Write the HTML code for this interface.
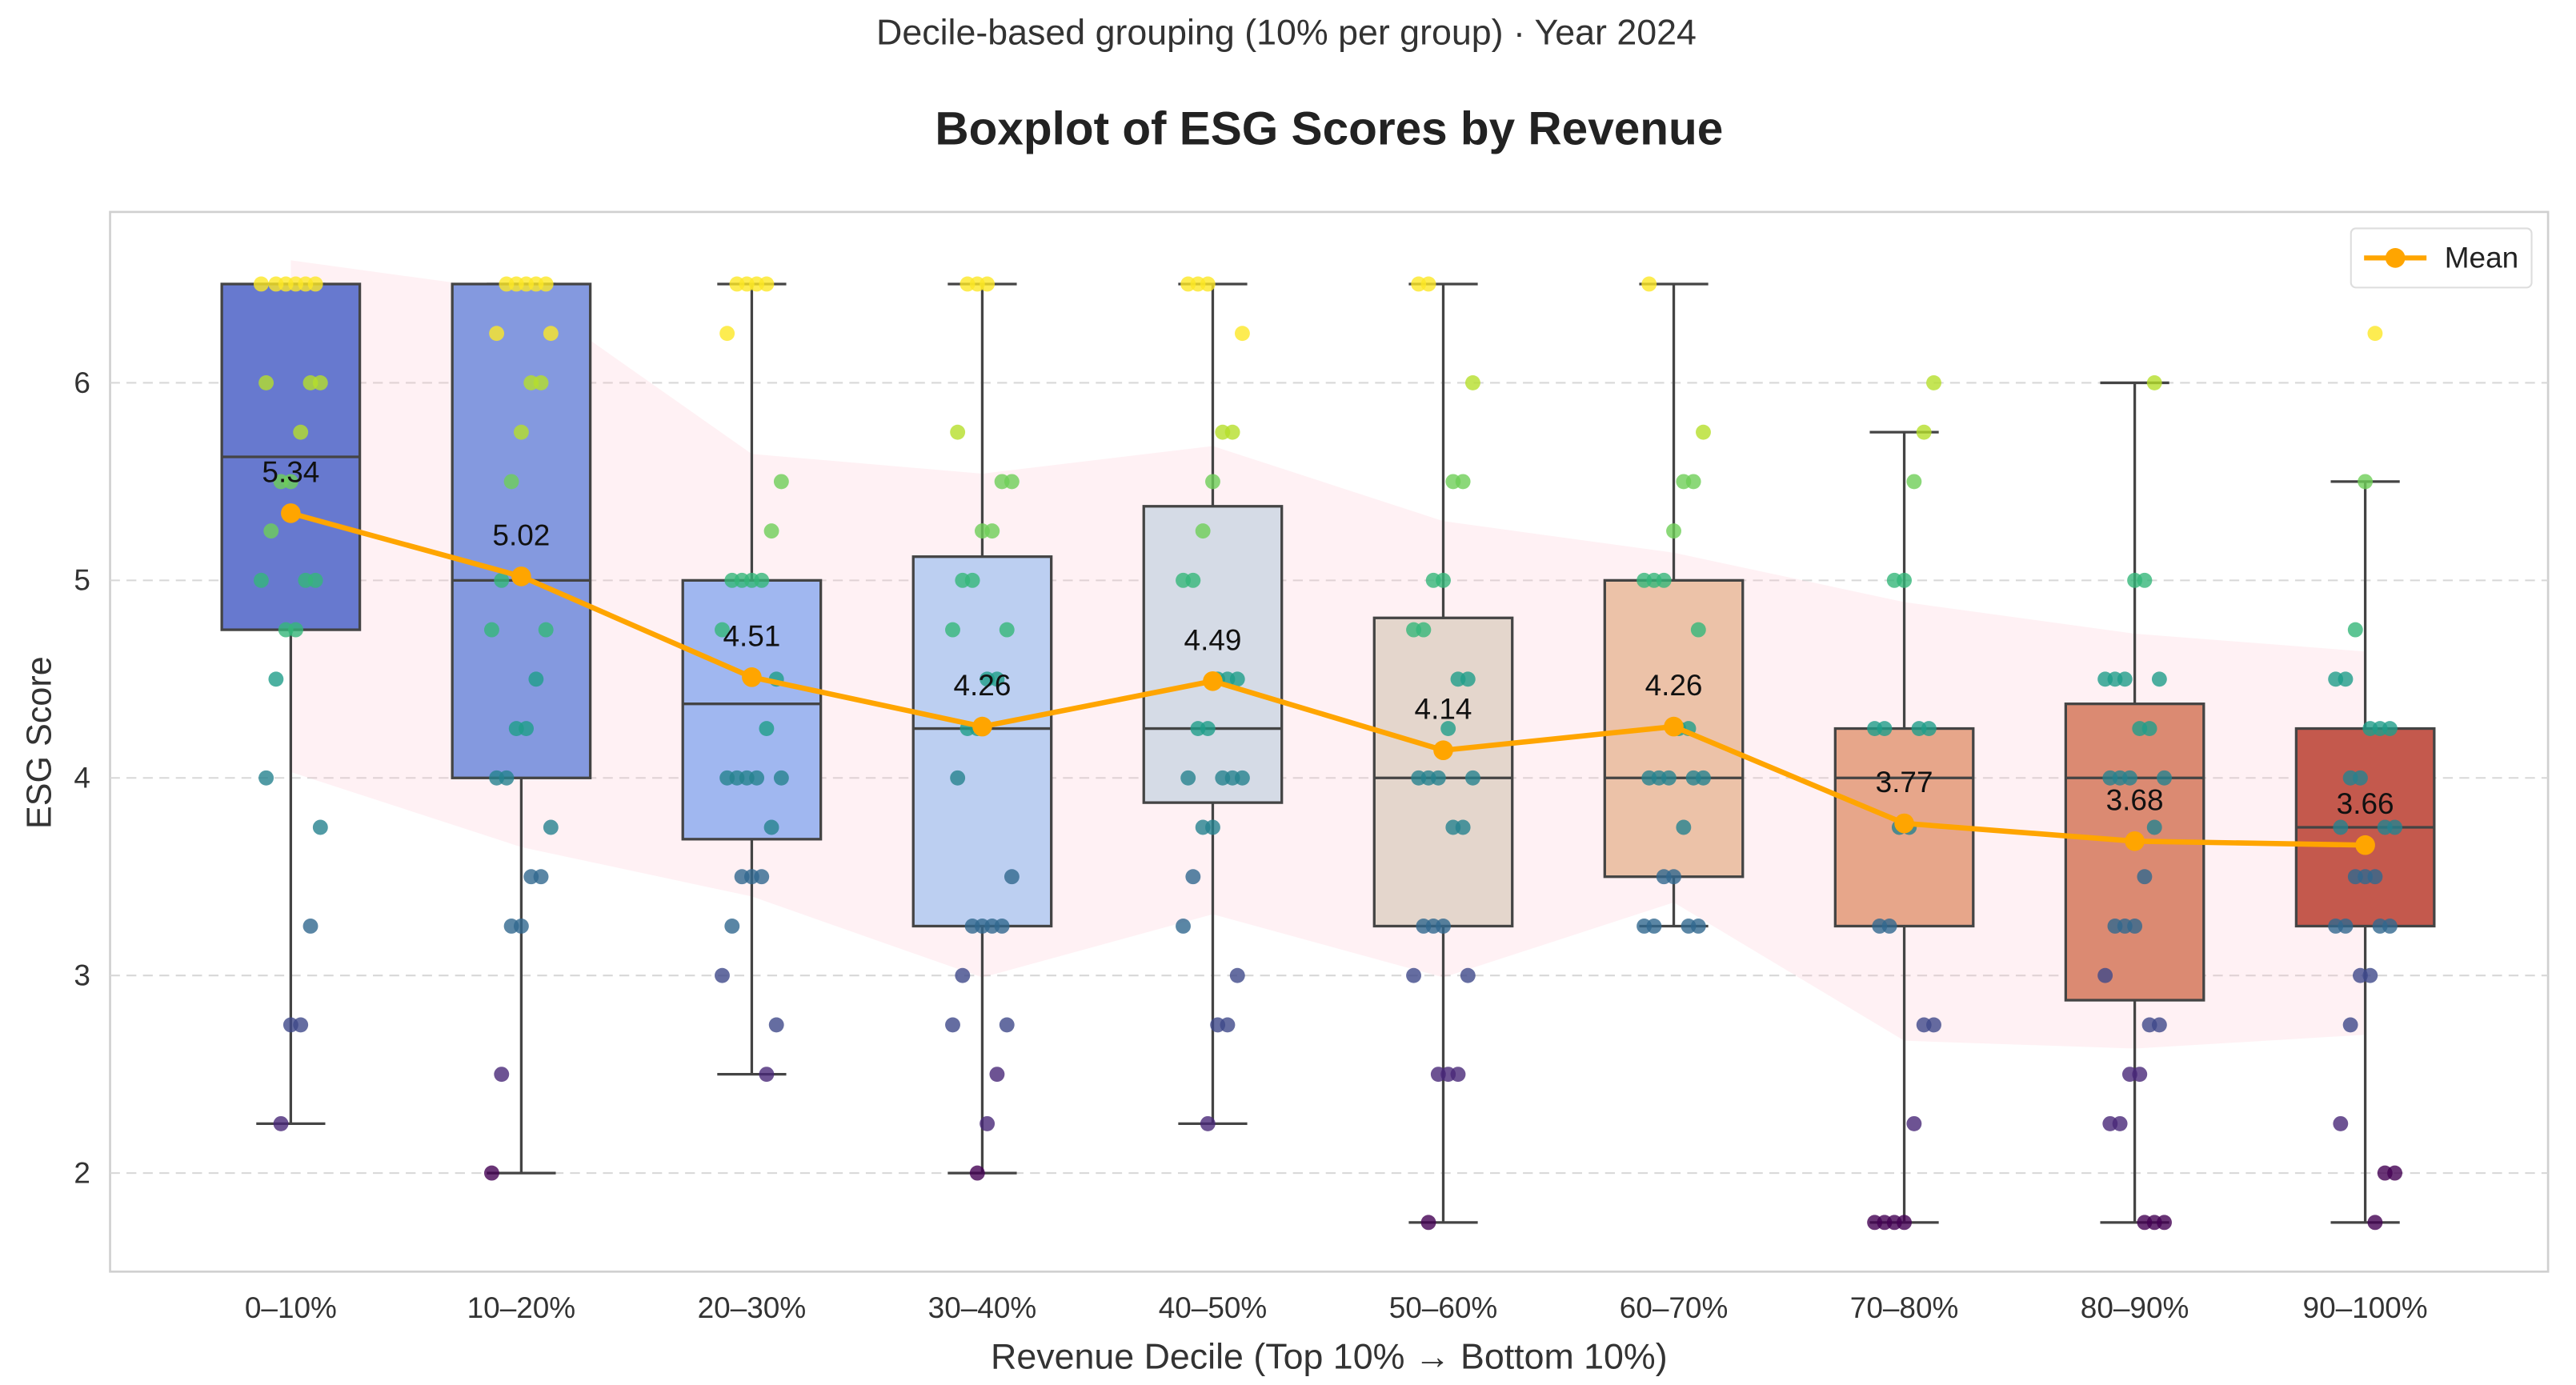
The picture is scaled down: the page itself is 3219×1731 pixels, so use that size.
<!DOCTYPE html>
<html><head><meta charset="utf-8"><style>
html,body{margin:0;padding:0;background:#fff;}
svg{display:block;font-family:"Liberation Sans",Arial,sans-serif;}
</style></head><body>
<svg id="chart" width="3219" height="1731" viewBox="0 0 1568 843" preserveAspectRatio="none" xmlns="http://www.w3.org/2000/svg">
<text x="783" y="27" text-anchor="middle" font-size="21.8" fill="#333">Decile-based grouping (10% per group) · Year 2024</text>
<text x="809" y="88" text-anchor="middle" font-size="28.5" font-weight="bold" fill="#222">Boxplot of ESG Scores by Revenue</text>
<rect x="67" y="129" width="1484" height="645" fill="#fff" stroke="#d0d0d0" stroke-width="1.3"/>
<g id="grid"></g><g id="band"></g><g id="boxes"></g><g id="points"></g><g id="meanline"></g><g id="axes"></g>
<text transform="translate(31,452) rotate(-90)" text-anchor="middle" font-size="21" fill="#333">ESG Score</text>
<text x="809" y="833" text-anchor="middle" font-size="21.8" fill="#333">Revenue Decile (Top 10% → Bottom 10%)</text>
<g>
<rect x="1431" y="139" width="110" height="36" rx="3" fill="#fff" stroke="#ddd"/>
<line x1="1439" y1="157" x2="1477" y2="157" stroke="#ffa500" stroke-width="3"/>
<circle cx="1458" cy="157" r="6" fill="#ffa500"/>
<text x="1488" y="163" font-size="18" fill="#222">Mean</text>
</g>
</svg>
<script>
const categories=["0–10%","10–20%","20–30%","30–40%","40–50%","50–60%","60–70%","70–80%","80–90%","90–100%"];
const q1=[4.75,4.0,3.69,3.25,3.875,3.25,3.5,3.25,2.875,3.25];
const medians=[5.625,5.0,4.375,4.25,4.25,4.0,4.0,4.0,4.0,3.75];
const q3=[6.5,6.5,5.0,5.12,5.375,4.81,5.0,4.25,4.375,4.25];
const whiskerLow=[2.25,2.0,2.5,2.0,2.25,1.75,3.25,1.75,1.75,1.75];
const whiskerHigh=[6.5,6.5,6.5,6.5,6.5,6.5,6.5,5.75,6.0,5.5];
const means=[5.34,5.02,4.51,4.26,4.49,4.14,4.26,3.77,3.68,3.66];
const bandUpper=[6.62,6.46,5.64,5.54,5.68,5.3,5.14,4.89,4.73,4.64];
const bandLower=[4.03,3.65,3.4,2.99,3.31,2.99,3.37,2.67,2.63,2.7];
const boxColors=["#6779cf","#8499df","#a0b7f0","#bccff1","#d5dbe6","#e4d6cc","#ecc2a8","#e7a68a","#db8a72","#c4594d"];
const yTicks=[2,3,4,5,6];
const points=[
[6.5,6.5,6.5,6.5,6.5,6.5,6,6,6,5.75,5.5,5.5,5.25,5,5,5,4.75,4.75,4.5,4,3.75,3.25,2.75,2.75,2.25],
[6.5,6.5,6.5,6.5,6.5,6.25,6.25,6,6,5.75,5.5,5,4.75,4.75,4.5,4.25,4.25,4,4,3.75,3.5,3.5,3.25,3.25,2.5,2],
[6.5,6.5,6.5,6.5,6.25,5.5,5.25,5,5,5,5,4.75,4.5,4.25,4,4,4,4,4,3.75,3.5,3.5,3.5,3.25,3,2.75,2.5],
[6.5,6.5,6.5,5.75,5.5,5.5,5.25,5.25,5,5,4.75,4.75,4.5,4.5,4.25,4.25,4,3.5,3.25,3.25,3.25,3.25,3,2.75,2.75,2.5,2.25,2],
[6.5,6.5,6.5,6.25,5.75,5.75,5.5,5.25,5,5,4.5,4.5,4.5,4.25,4.25,4,4,4,4,3.75,3.75,3.5,3.25,3,2.75,2.75,2.25],
[6.5,6.5,6,5.5,5.5,5,5,4.75,4.75,4.5,4.5,4.25,4,4,4,4,3.75,3.75,3.25,3.25,3.25,3,3,2.5,2.5,2.5,1.75],
[6.5,5.75,5.5,5.5,5.25,5,5,5,4.75,4.25,4.25,4,4,4,4,4,3.75,3.5,3.5,3.25,3.25,3.25,3.25],
[6,5.75,5.5,5,5,4.25,4.25,4.25,4.25,3.75,3.75,3.25,3.25,2.75,2.75,2.25,1.75,1.75,1.75,1.75],
[6,5,5,4.5,4.5,4.5,4.5,4.25,4.25,4,4,4,4,3.75,3.5,3.25,3.25,3.25,3,2.75,2.75,2.5,2.5,2.25,2.25,1.75,1.75,1.75],
[6.25,5.5,4.75,4.5,4.5,4.25,4.25,4.25,4,4,3.75,3.75,3.75,3.5,3.5,3.5,3.25,3.25,3.25,3.25,3,3,2.75,2.25,2,2,1.75]
];
const NS="http://www.w3.org/2000/svg";
const xPos=i=>177+i*140.3;
const yPos=v=>233+(6-v)*120.25;
const BW=84;
function mk(tag,attrs,parent){const e=document.createElementNS(NS,tag);for(const k in attrs)e.setAttribute(k,attrs[k]);parent.appendChild(e);return e;}
const viridis=["#440154","#482878","#3e4989","#31688e","#26828e","#1f9e89","#35b779","#6ece58","#b5de2b","#fde725"];
function vcol(v){let t=(v-1.75)/(6.5-1.75);t=Math.max(0,Math.min(1,t));return viridis[Math.round(t*9)];}
const grid=document.getElementById('grid'),axes=document.getElementById('axes');
yTicks.forEach(v=>{
 const l=mk('line',{x1:67,x2:1551,y1:yPos(v),y2:yPos(v),stroke:'#d8d8d8','stroke-dasharray':'6,4','stroke-width':1},grid);
 
 
 const t=mk('text',{x:55,y:yPos(v)+6,'text-anchor':'end','font-size':18,fill:'#333'},axes);
 t.textContent=v;
 
 
});
categories.forEach((c,i)=>{
 const t=mk('text',{x:xPos(i),y:802,'text-anchor':'middle','font-size':18,fill:'#333'},axes);
 t.textContent=c;
 
 
});
let d='';
bandUpper.forEach((v,i)=>{d+=(i?'L':'M')+xPos(i)+','+yPos(v);});
for(let i=bandLower.length-1;i>=0;i--)d+='L'+xPos(i)+','+yPos(bandLower[i]);
const band=mk('path',{d:d+'Z',fill:'#ffc0cb','fill-opacity':0.22},document.getElementById('band'));


const boxes=document.getElementById('boxes');
categories.forEach((c,i)=>{
 const x=xPos(i),g=mk('g',{},boxes);
 
 
 const st={stroke:'#444','stroke-width':1.6};
 mk('line',Object.assign({x1:x,x2:x,y1:yPos(whiskerHigh[i]),y2:yPos(q3[i])},st),g);
 mk('line',Object.assign({x1:x,x2:x,y1:yPos(q1[i]),y2:yPos(whiskerLow[i])},st),g);
 mk('line',Object.assign({x1:x-21,x2:x+21,y1:yPos(whiskerHigh[i]),y2:yPos(whiskerHigh[i])},st),g);
 mk('line',Object.assign({x1:x-21,x2:x+21,y1:yPos(whiskerLow[i]),y2:yPos(whiskerLow[i])},st),g);
 mk('rect',Object.assign({x:x-BW/2,y:yPos(q3[i]),width:BW,height:yPos(q1[i])-yPos(q3[i]),fill:boxColors[i]},st),g);
 mk('line',Object.assign({x1:x-BW/2,x2:x+BW/2,y1:yPos(medians[i]),y2:yPos(medians[i])},st),g);
});
const pts=document.getElementById('points');
points.forEach((arr,i)=>{arr.forEach((v,j)=>{
 const jit=(((j*37+i*11)%13)/12-0.5)*36;
 const p=mk('circle',{cx:xPos(i)+jit,cy:yPos(v),r:4.6,fill:vcol(v),'fill-opacity':0.8},pts);
 
 
});});
const ml=document.getElementById('meanline');
let md='';means.forEach((m,i)=>{md+=(i?'L':'M')+xPos(i)+','+yPos(m);});
const line=mk('path',{d:md,fill:'none',stroke:'#ffa500','stroke-width':3.2},ml);


means.forEach((m,i)=>{
 const c=mk('circle',{cx:xPos(i),cy:yPos(m),r:6,fill:'#ffa500'},ml);
 
 
 const t=mk('text',{x:xPos(i),y:yPos(m)-19,'text-anchor':'middle','font-size':18,fill:'#111'},ml);
 t.textContent=m.toFixed(2);
 
 
});
</script>
</body></html>
